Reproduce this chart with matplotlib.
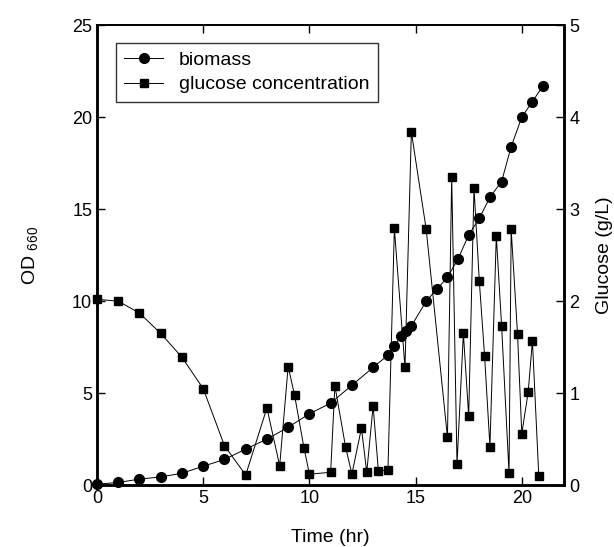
import matplotlib
matplotlib.use("Agg")
import matplotlib.pyplot as plt

plt.rcParams["font.family"] = ["Liberation Sans", "DejaVu Sans"]

# biomass (OD660) vs time
bio_time = [0, 1, 2, 3, 4, 5, 6, 7, 8, 9, 10, 11, 12, 13, 13.7, 14.0, 14.3,
            14.55, 14.8, 15.5, 16.0, 16.5, 17.0, 17.5, 18.0, 18.5, 19.05,
            19.5, 20.0, 20.5, 21.0]
biomass = [0.05, 0.15, 0.33, 0.45, 0.65, 1.03, 1.4, 1.96, 2.5, 3.15, 3.88,
           4.46, 5.43, 6.4, 7.07, 7.55, 8.1, 8.4, 8.65, 10.0, 10.65, 11.3,
           12.3, 13.6, 14.5, 15.65, 16.5, 18.4, 20.0, 20.85, 21.7]

# glucose (g/L) vs time
glu_time = [0, 1, 2, 3, 4, 5, 6, 7, 8, 8.6, 9.0, 9.3, 9.75, 10.0, 11.0, 11.2,
            11.7, 12.0, 12.45, 12.7, 13.0, 13.25, 13.7, 14.0, 14.5, 14.8, 15.5,
            16.5, 16.7, 16.95, 17.25, 17.5, 17.75, 18.0, 18.25, 18.5, 18.8,
            19.05, 19.4, 19.5, 19.8, 20.0, 20.3, 20.5, 20.8]
glucose = [2.02, 2.0, 1.87, 1.65, 1.39, 1.05, 0.43, 0.11, 0.84, 0.21, 1.29,
           0.98, 0.4, 0.12, 0.14, 1.08, 0.42, 0.12, 0.62, 0.14, 0.86, 0.15,
           0.17, 2.79, 1.28, 3.84, 2.78, 0.52, 3.35, 0.23, 1.65, 0.75, 3.23,
           2.22, 1.4, 0.42, 2.71, 1.73, 0.13, 2.78, 1.64, 0.56, 1.01, 1.57,
           0.1]

fig = plt.figure(figsize=(6.14, 5.47), dpi=100)
ax1 = fig.add_axes([0.158, 0.113, 0.761, 0.841])
ax2 = ax1.twinx()

l1, = ax1.plot(bio_time, biomass, color="black", lw=0.7, marker="o",
               markersize=7, clip_on=False, zorder=3)
l2, = ax2.plot(glu_time, glucose, color="black", lw=0.7, marker="s",
               markersize=6, clip_on=False, zorder=3)

ax1.set_xlim(0, 22)
ax1.set_ylim(0, 25)
ax2.set_ylim(0, 5)
ax1.set_xticks([0, 5, 10, 15, 20])
ax1.set_yticks([0, 5, 10, 15, 20, 25])
ax2.set_yticks([0, 1, 2, 3, 4, 5])

ax1.tick_params(axis="both", direction="in", labelsize=13, length=6,
                top=True, width=1)
ax2.tick_params(axis="y", direction="in", labelsize=13, length=6, width=1)

for ax in (ax1, ax2):
    for side in ("left", "bottom", "right"):
        ax.spines[side].set_linewidth(1.8)
    ax.spines["top"].set_linewidth(1.3)

ax1.set_xlabel("Time (hr)", fontsize=14, labelpad=16)
ax1.set_ylabel(r"OD $_{\mathregular{660}}$", fontsize=14, labelpad=22)
ax2.set_ylabel("Glucose (g/L)", fontsize=14, labelpad=12)

leg = ax2.legend([l1, l2], ["biomass", "glucose concentration"],
                 loc="upper left", bbox_to_anchor=(0.04, 0.962),
                 borderaxespad=0, fontsize=14, frameon=True, fancybox=False,
                 edgecolor="black", borderpad=0.45, handlelength=2.0,
                 labelspacing=0.35)
leg.get_frame().set_linewidth(1.0)

fig.savefig("out.png", dpi=100)
